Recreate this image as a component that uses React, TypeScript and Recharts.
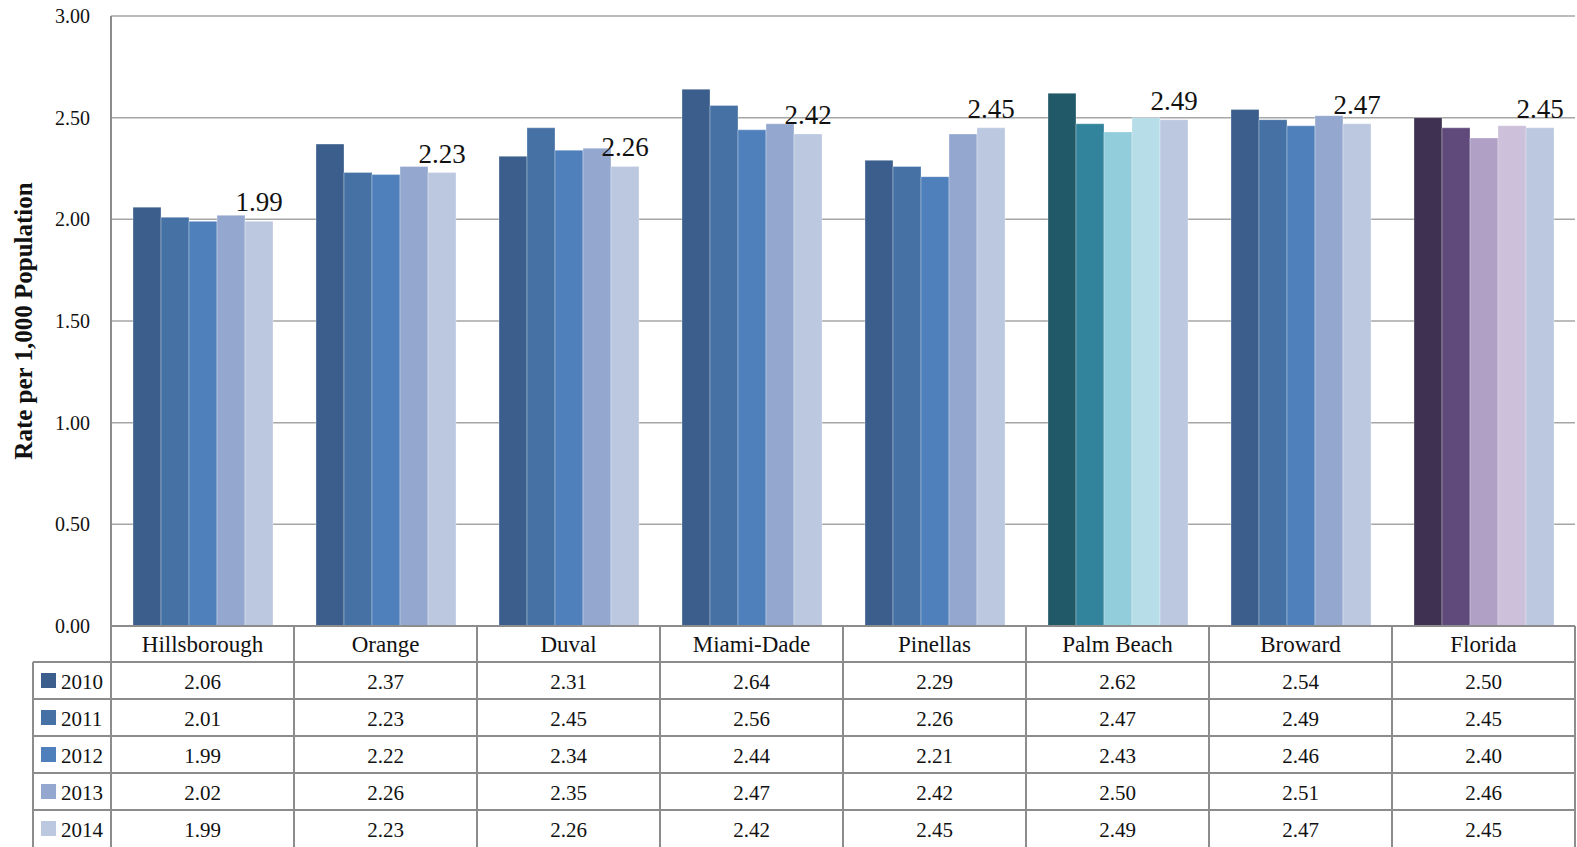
import { BarChart, Bar, XAxis, YAxis, CartesianGrid, Cell, LabelList } from 'recharts';

// Rate per 1,000 population by county, 2010-2014
const categories = ['Hillsborough', 'Orange', 'Duval', 'Miami-Dade', 'Pinellas', 'Palm Beach', 'Broward', 'Florida'];
const years = ['2010', '2011', '2012', '2013', '2014'];

const y2010 = [2.06, 2.37, 2.31, 2.64, 2.29, 2.62, 2.54, 2.50];
const y2011 = [2.01, 2.23, 2.45, 2.56, 2.26, 2.47, 2.49, 2.45];
const y2012 = [1.99, 2.22, 2.34, 2.44, 2.21, 2.43, 2.46, 2.40];
const y2013 = [2.02, 2.26, 2.35, 2.47, 2.42, 2.50, 2.51, 2.46];
const y2014 = [1.99, 2.23, 2.26, 2.42, 2.45, 2.49, 2.47, 2.45];

const yTicks = [0, 0.5, 1, 1.5, 2, 2.5, 3];

const seriesValues = [y2010, y2011, y2012, y2013, y2014];

// base colour per year; Palm Beach and Florida get their own palettes
const BASE = ['#3B5E8C', '#4571A5', '#4F80BC', '#94A8CF', '#BBC8E0'];
const PALM = ['#225968', '#31849B', '#92CDDC', '#B6DDE8', '#BBC8E0'];
const FLA = ['#3F3151', '#604A7B', '#B1A0C6', '#CCC0DA', '#BBC8E0'];

const W = 1577;
const H = 847;
const Y_AXIS_W = 111;
const RIGHT = 2;
const TOP = 16;
const TABLE_H = 221;
const CAT_W = (W - Y_AXIS_W - RIGHT) / categories.length;
const ROW_H = 37;
const HEAD_H = 36;
const LEG_W = 78;

const FONT = '"Liberation Serif", "DejaVu Serif", serif';
const LINE = '#8C8C8C';

const data = categories.map((name, i) => {
    const row: any = { name };
    years.forEach((yr, s) => {
        row['y' + yr] = seriesValues[s][i];
    });
    return row;
});

const colorFor = (cat: string, s: number) => {
    if (cat === 'Palm Beach') return PALM[s];
    if (cat === 'Florida') return FLA[s];
    return BASE[s];
};

// x-axis tick draws the whole column of the data table under each category
const TableTick = (props: any) => {
    const { x, y, payload, index } = props;
    const left = x - CAT_W / 2;
    const right = x + CAT_W / 2;
    const bodyTop = y + HEAD_H;
    const ci = categories.indexOf(payload.value);
    return (
        <g fontFamily={FONT}>
            <text x={x} y={y + HEAD_H / 2} textAnchor="middle" dominantBaseline="central" fontSize={23} fill="#111">
                {payload.value}
            </text>
            <line x1={right} y1={y} x2={right} y2={H} stroke={LINE} strokeWidth={2} />
            {index === 0 && <line x1={left} y1={y} x2={left} y2={H} stroke={LINE} strokeWidth={2} />}
            {years.map((yr, s) => (
                <g key={yr}>
                    <line x1={left} y1={bodyTop + s * ROW_H} x2={right} y2={bodyTop + s * ROW_H} stroke={LINE} strokeWidth={2} />
                    <text
                        x={x}
                        y={bodyTop + s * ROW_H + ROW_H / 2 + 1}
                        textAnchor="middle"
                        dominantBaseline="central"
                        fontSize={21}
                        fill="#111"
                    >
                        {seriesValues[s][ci].toFixed(2)}
                    </text>
                </g>
            ))}
            {index === 0 && (
                <g>
                    <line x1={left - LEG_W} y1={bodyTop} x2={left - LEG_W} y2={H} stroke={LINE} strokeWidth={2} />
                    {years.map((yr, s) => (
                        <g key={yr}>
                            <line
                                x1={left - LEG_W}
                                y1={bodyTop + s * ROW_H}
                                x2={left}
                                y2={bodyTop + s * ROW_H}
                                stroke={LINE}
                                strokeWidth={2}
                            />
                            <rect x={left - LEG_W + 8} y={bodyTop + s * ROW_H + 11} width={15} height={15} fill={BASE[s]} />
                            <text
                                x={left - LEG_W + 28}
                                y={bodyTop + s * ROW_H + ROW_H / 2 + 1}
                                dominantBaseline="central"
                                fontSize={21}
                                fill="#111"
                            >
                                {yr}
                            </text>
                        </g>
                    ))}
                </g>
            )}
        </g>
    );
};

export default function App() {
    return (
        <div style={{ width: W, height: H }}>
            <style>{'body{margin:0}'}</style>
            <BarChart
                width={W}
                height={H}
                data={data}
                margin={{ top: TOP, right: RIGHT, left: 0, bottom: 0 }}
                barCategoryGap={22}
                barGap={0}
                style={{ fontFamily: FONT }}
            >
                <CartesianGrid vertical={false} stroke="#A6A6A6" strokeWidth={1.5} />
                <XAxis
                    dataKey="name"
                    height={TABLE_H}
                    interval={0}
                    tickSize={0}
                    tickMargin={0}
                    axisLine={{ stroke: LINE, strokeWidth: 2 }}
                    tick={<TableTick />}
                />
                <YAxis
                    width={Y_AXIS_W}
                    domain={[0, 3]}
                    ticks={yTicks}
                    tickSize={0}
                    tickMargin={21}
                    tickFormatter={(v: number) => v.toFixed(2)}
                    axisLine={{ stroke: LINE, strokeWidth: 2 }}
                    tick={{ fontSize: 20, fill: '#111', fontFamily: FONT }}
                    label={{
                        value: 'Rate per 1,000 Population',
                        angle: -90,
                        position: 'insideLeft',
                        offset: 23,
                        style: { textAnchor: 'middle', fontSize: 25, fontWeight: 'bold', fill: '#111', fontFamily: FONT },
                    }}
                />
                {years.map((yr, s) => (
                    <Bar
                        key={yr}
                        dataKey={'y' + yr}
                        name={yr}
                        fill={BASE[s]}
                        stroke="#ffffff"
                        strokeOpacity={0.3}
                        strokeWidth={1}
                        isAnimationActive={false}
                    >
                        {data.map((d) => (
                            <Cell key={d.name} fill={colorFor(d.name, s)} />
                        ))}
                        {s === years.length - 1 && (
                            <LabelList
                                dataKey={'y' + yr}
                                position="top"
                                offset={10}
                                formatter={(v: any) => Number(v).toFixed(2)}
                                style={{ fontSize: 27, fill: '#111', fontFamily: FONT }}
                            />
                        )}
                    </Bar>
                ))}
            </BarChart>
        </div>
    );
}
